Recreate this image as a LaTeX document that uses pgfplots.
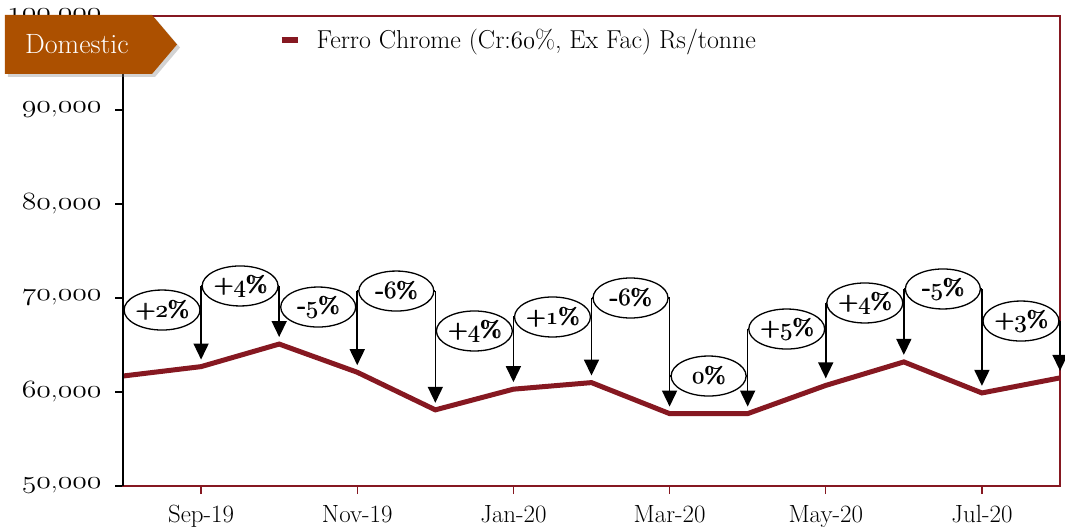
\documentclass[border=0pt]{standalone}
\usepackage{graphicx}
\usepackage{pgfplots}
\pgfplotsset{compat=1.18}
\usetikzlibrary{arrows.meta,shapes.geometric,shadows}
\definecolor{lineRed}{RGB}{134,24,33}
\definecolor{banner}{RGB}{172,80,0}
\newcommand{\osn}[1]{{\fontencoding{OML}\fontfamily{lmm}\fontseries{m}\fontshape{it}\selectfont #1}}
\newcommand{\osb}[1]{{\fontencoding{OML}\fontfamily{lmm}\fontseries{b}\fontshape{it}\selectfont #1}}
\newcommand{\heavy}[1]{\rlap{\hspace{0.8bp}#1}#1}
\newcommand{\yl}[2]{\scalebox{1.2}[1]{\osn{#1},\osn{#2}}}
\newcommand{\callout}[5]{% left, mid, right, height, text
  \draw[black, line width=1.3bp] (axis cs:#1,#4) -- (axis cs:#3,#4);
  \node[ellipse, draw=black, line width=1.3bp, fill=white, minimum width=75bp, minimum height=40bp, inner sep=0pt,
        font=\fontsize{23}{27}\selectfont\bfseries] at (axis cs:#2,#4) {\heavy{#5}};
}
\newcommand{\carrow}[3]{% x, top, tip
  \draw[black, line width=1.6bp, -{Triangle[width=15bp,length=16bp]}] (axis cs:#1,#2) -- (axis cs:#1,#3);
}
\pgfplotstableread{
x val
0 61700
1 62700
2 65100
3 62100
4 58100
5 60300
6 61000
7 57700
8 57700
9 60700
10 63200
11 59900
12 61500
}\ferro
\begin{document}
\begin{tikzpicture}
\useasboundingbox (-123bp,-41bp) rectangle (942bp,486bp);
\begin{axis}[
  scale only axis, width=937bp, height=470bp,
  at={(0,0)}, anchor=south west,
  xmin=0, xmax=12, ymin=50000, ymax=100000,
  clip=false, scaled y ticks=false,
  axis line style={lineRed, line width=1.3bp},
  xtick={1,3,5,7,9,11},
  xticklabels={Sep-19,Nov-19,Jan-20,Mar-20,May-20,Jul-20},
  ytick={50000,60000,70000,80000,90000,100000},
  yticklabels={\yl{50}{000},\yl{60}{000},\yl{70}{000},\yl{80}{000},\yl{90}{000},\yl{100}{000}},
  tick align=outside, xtick pos=bottom, ytick pos=left,
  major tick length=8bp,
  x tick style={lineRed, line width=1.2bp},
  y tick style={black, line width=1.2bp},
  yticklabel style={font=\fontsize{23}{27}\selectfont, black, xshift=-10bp},
  xticklabel style={font=\fontsize{25}{29}\selectfont, black, yshift=-8bp},
  legend style={draw=none, fill=none, at={(0.166,0.949)}, anchor=west,
                font=\fontsize{26}{30}\selectfont, inner sep=0pt},
  legend image code/.code={\draw[lineRed, line width=6bp] (0bp,0bp) -- (16bp,0bp);},
  legend cell align=left,
]
\addplot[lineRed, line width=5bp] table[x=x, y=val] {\ferro};
\addlegendentry{\hspace{14bp}Ferro Chrome (Cr:\osn{60}\%, Ex Fac) Rs/tonne}
\draw[black, line width=1.5bp] (rel axis cs:0,0) -- (rel axis cs:0,1);
% connectors and labels
\callout{0}{0.5}{1}{68720}{+\osb{2}\%}
\callout{1}{1.5}{2}{71280}{+\osb{4}\%}
\callout{2}{2.5}{3}{69040}{-\osb{5}\%}
\callout{3}{3.5}{4}{70740}{-\osb{6}\%}
\callout{4}{4.5}{5}{66490}{+\osb{4}\%}
\callout{5}{5.5}{6}{67980}{+\osb{1}\%}
\callout{6}{6.5}{7}{70000}{-\osb{6}\%}
\callout{7}{7.5}{8}{61700}{\osb{0}\%}
\callout{8}{8.5}{9}{66700}{+\osb{5}\%}
\callout{9}{9.5}{10}{69470}{+\osb{4}\%}
\callout{10}{10.5}{11}{70960}{-\osb{5}\%}
\callout{11}{11.5}{12}{67550}{+\osb{3}\%}
\carrow{1}{71280}{63450}
\carrow{2}{71280}{65850}
\carrow{3}{70740}{62850}
\carrow{4}{70740}{58850}
\carrow{5}{67980}{61050}
\carrow{6}{70000}{61750}
\carrow{7}{70000}{58450}
\carrow{8}{66700}{58450}
\carrow{9}{69470}{61450}
\carrow{10}{70960}{63950}
\carrow{11}{70960}{60650}
\carrow{12}{67550}{62250}
\end{axis}
\fill[banner, drop shadow={shadow xshift=3bp, shadow yshift=-3bp, opacity=0.35}]
  (-118bp,412bp) -- (-118bp,471bp) -- (29bp,471bp) -- (54bp,441.5bp) -- (29bp,412bp) -- cycle;
\node[white, font=\fontsize{28}{33}\selectfont] at (-46bp,442bp) {Domestic};
\end{tikzpicture}
\end{document}
